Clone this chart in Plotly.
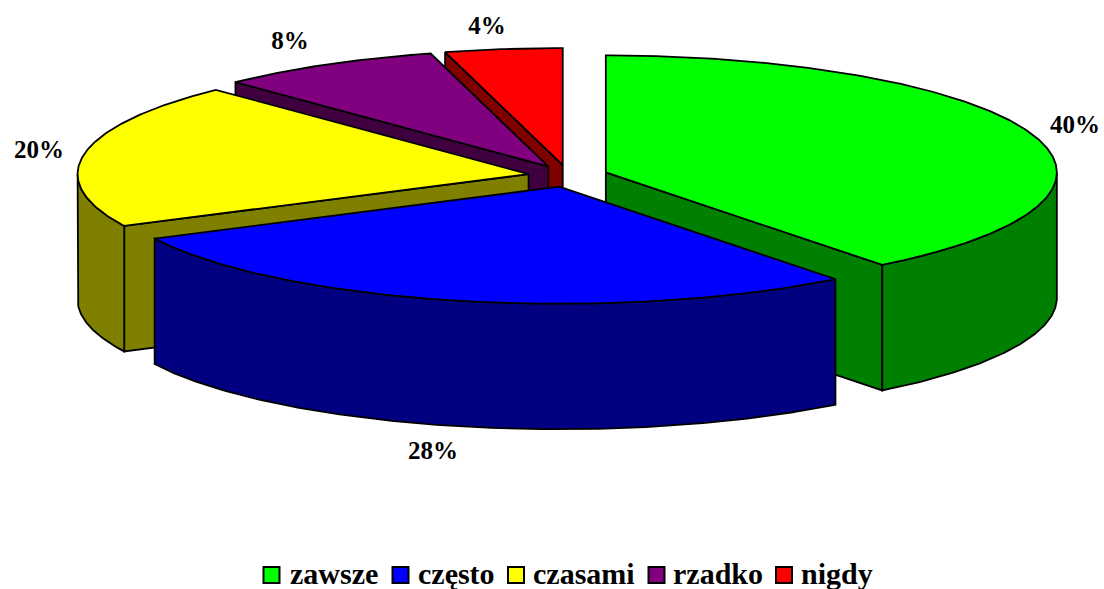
import numpy as np
import plotly.graph_objects as go

categories = ["zawsze", "często", "czasami", "rzadko", "nigdy"]
values = [39.5, 28.2, 20.1, 8.0, 4.2]
labels = ["40%", "28%", "20%", "8%", "4%"]
top_colors = ["#00FF00", "#0000FF", "#FFFF00", "#800080", "#FF0000"]
side_colors = ["#008000", "#000080", "#808000", "#400040", "#800000"]

W, H = 1104, 589
CX, CY = 568, 176      # unexploded pie centre
RX, RY = 451, 117      # ellipse radii
DEPTH = 125.5
EX, EY = 40, 11        # explosion offsets
LINE = 1.8

label_pos = [(1075, 127), (433, 453), (39, 152), (290, 43), (487, 28)]
label_size = 25
legend_swatch_x = [271.5, 400.5, 516, 656.5, 784]
legend_text_x = [290, 418, 533, 673, 801]
legend_y = 576
legend_size = 30

fig = go.Figure()


def poly(xs, ys, fill):
    fig.add_trace(go.Scatter(
        x=list(xs) + [xs[0]], y=list(ys) + [ys[0]], mode="lines", fill="toself",
        fillcolor=fill, line=dict(color="black", width=LINE),
        hoverinfo="skip", showlegend=False))


def rim(ax, ay, t0, t1):
    t = np.radians(np.linspace(t0, t1, max(int(abs(t1 - t0)) * 2, 2)))
    return ax + RX * np.sin(t), ay - RY * np.cos(t)


# slice angle spans, clockwise from 12 o'clock
edges = np.concatenate([[0], np.cumsum(values) / sum(values) * 360])
geo = []
for i in range(len(values)):
    t0, t1 = edges[i], edges[i + 1]
    mid = np.radians((t0 + t1) / 2)
    geo.append((t0, t1, CX + EX * np.sin(mid), CY - EY * np.cos(mid)))

# draw back to front: red, purple, yellow, green, blue
for i in [4, 3, 2, 0, 1]:
    t0, t1, ax, ay = geo[i]
    # inner wall that faces the viewer
    t = t1 if i == 0 else t0
    if i != 1:
        rx_ = ax + RX * np.sin(np.radians(t))
        ry_ = ay - RY * np.cos(np.radians(t))
        poly([ax, rx_, rx_, ax], [ay, ry_, ry_ + DEPTH, ay + DEPTH], side_colors[i])
    # outer curved wall (front half of the ellipse only)
    a, b = max(t0, 90), min(t1, 270)
    if a < b:
        xs, ys = rim(ax, ay, a, b)
        poly(np.r_[xs, xs[::-1]], np.r_[ys, ys[::-1] + DEPTH], side_colors[i])
    # top face
    xs, ys = rim(ax, ay, t0, t1)
    poly(np.r_[ax, xs], np.r_[ay, ys], top_colors[i])

# percentage labels
fig.add_trace(go.Scatter(
    x=[p[0] for p in label_pos], y=[p[1] for p in label_pos],
    text=[f"<b>{s}</b>" for s in labels], mode="text",
    textposition="middle center", hoverinfo="skip", showlegend=False,
    textfont=dict(family="Liberation Serif", size=label_size, color="black")))

# legend
fig.add_trace(go.Scatter(
    x=legend_swatch_x, y=[legend_y - 1] * len(categories), mode="markers", hoverinfo="skip",
    showlegend=False,
    marker=dict(symbol="square", size=16, color=top_colors, line=dict(color="black", width=2))))
fig.add_trace(go.Scatter(
    x=legend_text_x, y=[legend_y] * len(categories),
    text=[f"<b>{s}</b>" for s in categories], mode="text",
    textposition="middle right", hoverinfo="skip", showlegend=False,
    textfont=dict(family="Liberation Serif", size=legend_size, color="black")))

fig.update_layout(
    width=W, height=H, margin=dict(l=0, r=0, t=0, b=0),
    paper_bgcolor="white", plot_bgcolor="white", showlegend=False,
    font=dict(family="Liberation Serif", color="black"),
    xaxis=dict(range=[0, W], visible=False, fixedrange=True),
    yaxis=dict(range=[H, 0], visible=False, fixedrange=True),
)

fig.write_html("out.html", config=dict(displayModeBar=False),
               post_script='document.body.style.margin="0";document.body.style.overflow="hidden";')
